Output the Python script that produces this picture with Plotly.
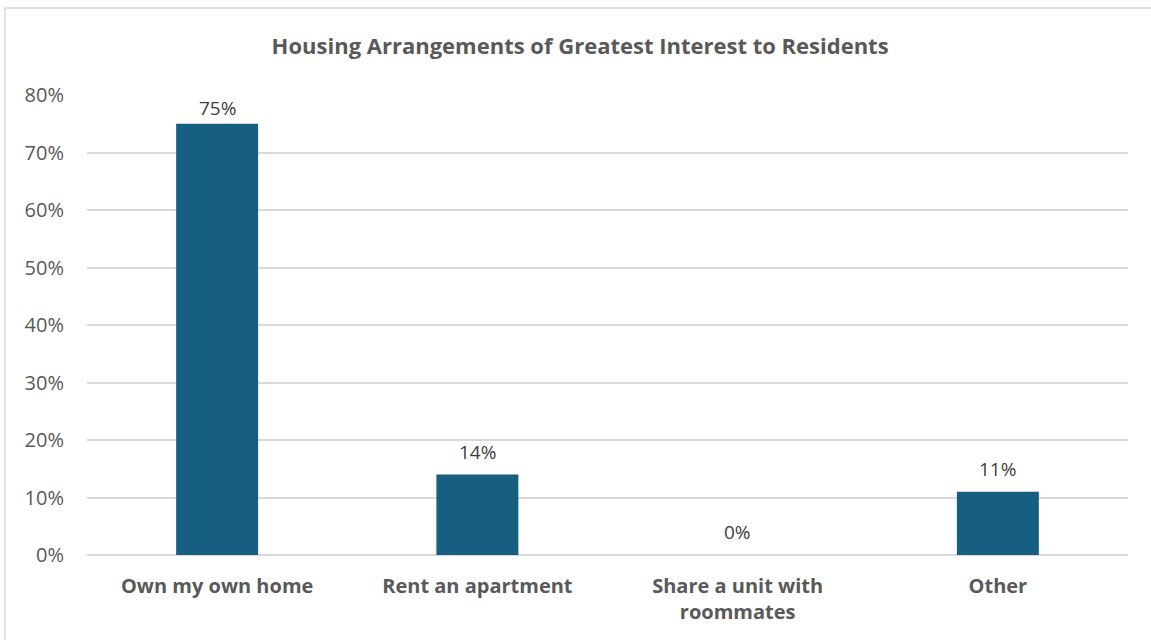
import plotly.graph_objects as go

# Survey results
categories = ["Own my own home", "Rent an apartment", "Share a unit with<br>roommates", "Other"]
shares = [75, 14, 0, 11]
labels = [f"{v}%" for v in shares]
tick_values = [0, 10, 20, 30, 40, 50, 60, 70, 80]
tick_labels = [f"{v}%" for v in tick_values]

W, H = 1151, 640
L, R, T, B = 87, 23, 95, 85
pw, ph = W - L - R, H - T - B
y_max = 80

def px_x(p):
    return (p - L) / pw

def px_y(p):
    return (H - B - p) / ph

font_family = "'Open Sans', sans-serif"

fig = go.Figure(
    go.Bar(
        x=categories,
        y=shares,
        marker=dict(color="#175f80", line=dict(width=0)),
        width=0.315,
        hoverinfo="x+y",
    )
)

# Value labels float above each bar but stay inside the plot area near the top
label_gap = 23      # pixels between bar top and label centre
top_margin = 13     # minimum pixels between plot top and label centre
for cat, v, txt in zip(categories, shares, labels):
    room = (y_max - v) / y_max * ph
    fig.add_annotation(
        x=cat,
        y=v,
        text=txt,
        showarrow=False,
        yanchor="middle",
        yshift=min(label_gap, room - top_margin),
        font=dict(size=19, color="#404040", family=font_family),
    )

fig.update_layout(
    width=W,
    height=H,
    margin=dict(l=L, r=R, t=T, b=B),
    paper_bgcolor="white",
    plot_bgcolor="white",
    showlegend=False,
    title=dict(
        text="<b>Housing Arrangements of Greatest Interest to Residents</b>",
        x=0.504,
        xanchor="center",
        y=1 - 46 / H,
        yanchor="middle",
        font=dict(size=22, color="#595959", family=font_family),
    ),
    xaxis=dict(
        showgrid=False,
        showline=False,
        ticks="",
        tickfont=dict(size=20, color="#595959", family=font_family, weight="bold"),
        ticklabelstandoff=17,
    ),
    yaxis=dict(
        range=[0, y_max],
        tickvals=tick_values,
        ticktext=tick_labels,
        showgrid=True,
        gridcolor="#d9d9d9",
        gridwidth=1.5,
        zeroline=True,
        zerolinecolor="#d9d9d9",
        zerolinewidth=1.5,
        showline=False,
        ticks="",
        ticklabelstandoff=22,
        tickfont=dict(size=20, color="#595959", family=font_family),
    ),
    shapes=[
        dict(
            type="rect",
            xref="paper",
            yref="paper",
            x0=px_x(5),
            x1=px_x(W + 5),
            y0=px_y(H + 5),
            y1=px_y(8),
            line=dict(color="#d9d9d9", width=1.5),
            fillcolor="rgba(0,0,0,0)",
            layer="below",
        )
    ],
    bargap=0.685,
)

fig.write_html("out.html")
